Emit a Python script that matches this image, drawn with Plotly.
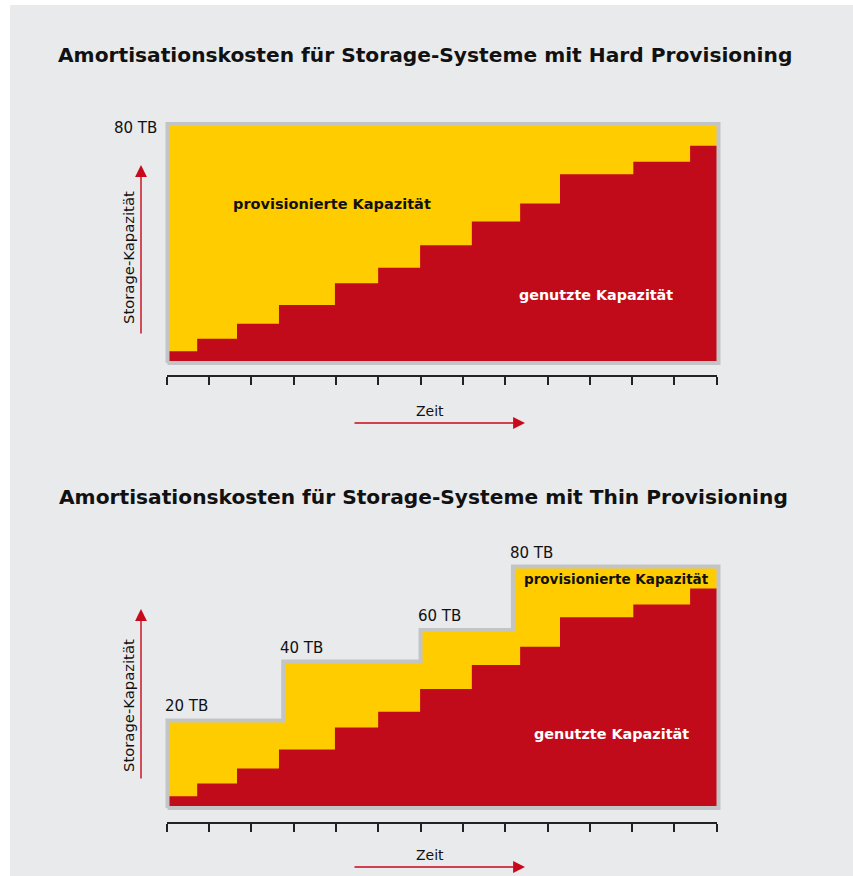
import plotly.graph_objects as go

W, H = 853, 876

# ---------------- data ----------------
time_ticks = list(range(14))                      # 13 time intervals
used_x = [0, 0.70, 1.64, 2.63, 3.95, 4.97, 5.96, 7.18, 8.32, 9.26, 10.99, 12.33, 13]
used_tb = [3.9, 8.1, 13.1, 19.4, 26.7, 31.9, 39.4, 47.4, 53.4, 63.2, 67.4, 72.7]
hard_x = [0, 13]
hard_tb = [80, 80]
hard_label = "80 TB"
thin_x = [0, 2.73, 5.97, 8.15, 13]
thin_tb = [29.0, 48.5, 59.0, 80.0]
thin_labels = ["20 TB", "40 TB", "60 TB", "80 TB"]

title_hard = "Amortisationskosten für Storage-Systeme mit Hard Provisioning"
title_thin = "Amortisationskosten für Storage-Systeme mit Thin Provisioning"
lbl_prov = "provisionierte Kapazität"
lbl_used = "genutzte Kapazität"
lbl_y = "Storage-Kapazität"
lbl_x = "Zeit"

# ---------------- style ----------------
YEL = "#FFCC00"
RED = "#C20B1A"
FRAME = "#C3C4C6"
ARROW = "#C8091B"
BG = "#E9EAEC"
FONT = "DejaVu Sans"


def px(x, y):
    return x / W, 1 - y / H


fig = go.Figure()

# ---- top chart (hard provisioning) ----
fig.add_trace(go.Scatter(x=hard_x, y=hard_tb, mode="lines", line=dict(width=0),
                         fill="tozeroy", fillcolor=YEL, xaxis="x", yaxis="y", hoverinfo="skip"))
fig.add_trace(go.Scatter(x=used_x, y=used_tb + [used_tb[-1]], mode="lines", line=dict(width=0, shape="hv"),
                         fill="tozeroy", fillcolor=RED, xaxis="x", yaxis="y", hoverinfo="skip"))
fx = [hard_x[0], hard_x[0], hard_x[-1], hard_x[-1], hard_x[0]]
fy = [0, hard_tb[0], hard_tb[-1], 0, 0]
fig.add_trace(go.Scatter(x=fx, y=fy, mode="lines", line=dict(width=4, color=FRAME),
                         xaxis="x", yaxis="y", hoverinfo="skip"))

# ---- bottom chart (thin provisioning) ----
fig.add_trace(go.Scatter(x=thin_x, y=thin_tb + [thin_tb[-1]], mode="lines", line=dict(width=0, shape="hv"),
                         fill="tozeroy", fillcolor=YEL, xaxis="x2", yaxis="y2", hoverinfo="skip"))
fig.add_trace(go.Scatter(x=used_x, y=used_tb + [used_tb[-1]], mode="lines", line=dict(width=0, shape="hv"),
                         fill="tozeroy", fillcolor=RED, xaxis="x2", yaxis="y2", hoverinfo="skip"))
gx, gy = [thin_x[0]], [0]
for i, v in enumerate(thin_tb):
    gx += [thin_x[i], thin_x[i + 1]]
    gy += [v, v]
gx += [thin_x[-1], thin_x[0]]
gy += [0, 0]
fig.add_trace(go.Scatter(x=gx, y=gy, mode="lines", line=dict(width=4, color=FRAME),
                         xaxis="x2", yaxis="y2", hoverinfo="skip"))

# ---- time tick axes (invisible carrier traces) ----
for xa, ya in (("x3", "y3"), ("x4", "y4")):
    fig.add_trace(go.Scatter(x=time_ticks, y=[0] * len(time_ticks), mode="markers",
                             marker=dict(opacity=0), xaxis=xa, yaxis=ya, hoverinfo="skip"))

# ---------------- axes ----------------
xmax = max(hard_x)
ymax = max(hard_tb)
ux = (718.5 - 167.5) / xmax
uy1 = (363 - 124) / ymax
uy2 = (808 - 566.5) / ymax
pad = 4


def hidden(**kw):
    d = dict(visible=False, showgrid=False, zeroline=False, fixedrange=True)
    d.update(kw)
    return d


tick_axis = dict(range=[0, xmax], tickvals=time_ticks, ticks="outside", ticklen=8, tickwidth=1.5,
                 tickcolor="#222", showline=True, linecolor="#222", linewidth=1.5,
                 showticklabels=False, showgrid=False, zeroline=False, fixedrange=True)

fig.update_layout(
    xaxis=hidden(domain=[(167.5 - pad) / W, (718.5 + pad) / W], range=[-pad / ux, xmax + pad / ux], anchor="y"),
    yaxis=hidden(domain=[1 - (363 + pad) / H, 1 - (124 - pad) / H], range=[-pad / uy1, ymax + pad / uy1], anchor="x"),
    xaxis2=hidden(domain=[(167.5 - pad) / W, (718.5 + pad) / W], range=[-pad / ux, xmax + pad / ux], anchor="y2"),
    yaxis2=hidden(domain=[1 - (808 + pad) / H, 1 - (566.5 - pad) / H], range=[-pad / uy2, ymax + pad / uy2], anchor="x2"),
    xaxis3=dict(domain=[166.7 / W, 716.8 / W], anchor="y3", **tick_axis),
    yaxis3=hidden(domain=[1 - 375 / H, 1 - 374 / H], anchor="x3"),
    xaxis4=dict(domain=[166.7 / W, 716.8 / W], anchor="y4", **tick_axis),
    yaxis4=hidden(domain=[1 - 822 / H, 1 - 821 / H], anchor="x4"),
)

# ---------------- annotations ----------------
ann = []


def text(x, y, s, size, color="#111", bold=False, angle=0, xanchor="center"):
    xx, yy = px(x, y)
    ann.append(dict(x=xx, y=yy, xref="paper", yref="paper", text=f"<b>{s}</b>" if bold else s,
                    showarrow=False, textangle=angle, xanchor=xanchor, yanchor="middle",
                    font=dict(family=FONT, size=size, color=color)))


def arrow(x_tip, y_tip, ax, ay):
    xx, yy = px(x_tip, y_tip)
    ann.append(dict(x=xx, y=yy, xref="paper", yref="paper", text="", showarrow=True,
                    ax=ax, ay=ay, axref="pixel", ayref="pixel", arrowhead=2, arrowsize=1.7,
                    arrowwidth=1.4, arrowcolor=ARROW, standoff=0))


# titles
text(425, 55, title_hard, 20.2, bold=True)
text(423, 497, title_thin, 20.2, bold=True)

# top chart labels
text(332, 204, lbl_prov, 14.5, bold=True)
text(596, 295, lbl_used, 14.3, color="white", bold=True)
ann.append(dict(x=hard_x[0], y=hard_tb[0], xref="x", yref="y", text=hard_label, showarrow=False,
                xanchor="right", yanchor="middle", xshift=-9, yshift=-4,
                font=dict(family=FONT, size=15, color="#111")))
text(128, 257, lbl_y, 14.8, angle=-90)
arrow(141, 165, 0, 170)
text(430, 411, lbl_x, 14)
arrow(525, 423, -172, 0)

# bottom chart labels
text(616, 579, lbl_prov, 13.5, bold=True)
text(611, 734, lbl_used, 14.4, color="white", bold=True)
for i, lab in enumerate(thin_labels):
    ann.append(dict(x=thin_x[i], y=thin_tb[i], xref="x2", yref="y2", text=lab, showarrow=False,
                    xanchor="left", yanchor="middle", xshift=-5, yshift=14,
                    font=dict(family=FONT, size=15, color="#111")))
text(128, 705, lbl_y, 14.8, angle=-90)
arrow(141, 609, 0, 171)
text(430, 855, lbl_x, 14)
arrow(525, 867, -172, 0)

fig.update_layout(
    annotations=ann,
    width=W, height=H,
    margin=dict(l=0, r=0, t=0, b=0),
    paper_bgcolor=BG,
    plot_bgcolor="rgba(0,0,0,0)",
    showlegend=False,
    hovermode=False,
    shapes=[
        dict(type="rect", xref="paper", yref="paper", x0=0, x1=10 / W, y0=0, y1=1,
             fillcolor="white", line=dict(width=0), layer="below"),
        dict(type="rect", xref="paper", yref="paper", x0=0, x1=1, y0=1 - 5 / H, y1=1,
             fillcolor="white", line=dict(width=0), layer="below"),
    ],
)

fig.write_html("out.html", config={"displayModeBar": False},
               post_script="document.body.style.margin='0';document.body.style.overflow='hidden';")
